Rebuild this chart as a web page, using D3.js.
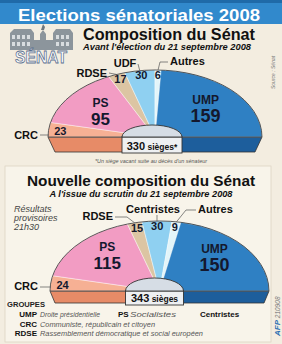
<!DOCTYPE html>
<html>
<head>
<meta charset="utf-8">
<script src="https://cdn.jsdelivr.net/npm/d3@7"></script>
<style>
  body { margin: 0; background: #f3ede0; }
  svg { display: block; font-family: "Liberation Sans", Arial, sans-serif; }
</style>
</head>
<body>
<div id="chart"></div>
<script>
// data
var groupsBefore = ["CRC", "PS", "RDSE", "UDF", "Autres", "UMP"];
var seatsBefore = [23, 95, 17, 30, 6, 159];
var groupsAfter = ["CRC", "PS", "RDSE", "Centristes", "Autres", "UMP"];
var seatsAfter = [24, 115, 15, 30, 9, 150];
var totalBefore = "330";
var totalAfter = "343";

var legendCodes = ["UMP", "CRC", "RDSE"];
var legendNames = ["Droite présidentielle", "Communiste, républicain et citoyen",
                   "Rassemblement démocratique et social européen"];

var colors = {
    CRC: "#f6b094", PS: "#f29cc3", RDSE: "#dcc5a3", UDF: "#8fd0f1",
    Centristes: "#8fd0f1", Autres: "#e3f5f9", UMP: "#2f80c3"
};
var sideColors = { CRC: "#e78b67", UMP: "#1d5e9c" };

var svgWidth = 282;
var svgHeight = 344;

var svg = d3.select("#chart")
    .append("svg")
    .attr("width", svgWidth)
    .attr("height", svgHeight);

svg.append("rect")
    .attr("width", svgWidth).attr("height", svgHeight)
    .attr("fill", "#f3ede0");

// header bar
svg.append("rect")
    .attr("width", svgWidth).attr("height", 24)
    .attr("fill", "#3189cc");
svg.append("rect")
    .attr("width", svgWidth).attr("height", 3)
    .attr("fill", "#1f6aa8");
svg.append("text")
    .attr("x", 139).attr("y", 21)
    .attr("text-anchor", "middle")
    .attr("textLength", 242).attr("lengthAdjust", "spacingAndGlyphs")
    .style("font-size", "17px").style("font-weight", "bold")
    .attr("fill", "#fff")
    .text("Elections sénatoriales 2008");

// senate building logo
var logo = svg.append("g");
logo.append("path")
    .attr("d", "M10,50 L10,33 L14,29 L31,29 L34,33 L34,40 L40,40 L40,34 L43,30 L46,34 L46,40 L53,40 L53,33 L56,29 L70,29 L73,33 L73,50 Z")
    .attr("fill", "#8c959c");
[12, 17, 22, 27, 56, 61, 66].forEach(function(x) {
    logo.append("rect").attr("x", x).attr("y", 35).attr("width", 3).attr("height", 4).attr("fill", "#d9dde0");
    logo.append("rect").attr("x", x).attr("y", 42).attr("width", 3).attr("height", 4).attr("fill", "#d9dde0");
});
logo.append("path")
    .attr("d", "M41,30 L43,24 L45,27 L44,30 Z")
    .attr("fill", "#6e777e");
logo.append("text")
    .attr("x", 41).attr("y", 63)
    .attr("text-anchor", "middle")
    .attr("textLength", 52).attr("lengthAdjust", "spacingAndGlyphs")
    .style("font-size", "17px").style("font-weight", "bold")
    .attr("fill", "#fff").attr("stroke", "#5d7190").attr("stroke-width", 0.8)
    .text("SÉNAT");

svg.append("text")
    .attr("x", 83).attr("y", 40)
    .attr("textLength", 172).attr("lengthAdjust", "spacingAndGlyphs")
    .style("font-size", "16px").style("font-weight", "bold")
    .attr("fill", "#111")
    .text("Composition du Sénat");
svg.append("text")
    .attr("x", 83).attr("y", 50)
    .attr("textLength", 168).attr("lengthAdjust", "spacingAndGlyphs")
    .style("font-size", "9px").style("font-weight", "bold").style("font-style", "italic")
    .attr("fill", "#111")
    .text("Avant l'élection du 21 septembre 2008");

svg.append("text")
    .attr("transform", "translate(275,89) rotate(-90)")
    .style("font-size", "5px").style("font-style", "italic")
    .attr("fill", "#777")
    .text("Source : Sénat");

svg.append("text")
    .attr("x", 151).attr("y", 163)
    .attr("text-anchor", "middle")
    .attr("textLength", 112).attr("lengthAdjust", "spacingAndGlyphs")
    .style("font-size", "5px").style("font-style", "italic")
    .attr("fill", "#555")
    .text("*Un siège vacant suite au décès d'un sénateur");

// second panel
svg.append("rect")
    .attr("x", 5).attr("y", 166).attr("width", 266).attr("height", 176)
    .attr("fill", "#f8f4ea").attr("stroke", "#ddd5c4").attr("stroke-width", 0.8);

svg.append("text")
    .attr("x", 141).attr("y", 186)
    .attr("text-anchor", "middle")
    .attr("textLength", 228).attr("lengthAdjust", "spacingAndGlyphs")
    .style("font-size", "15.5px").style("font-weight", "bold")
    .attr("fill", "#111")
    .text("Nouvelle composition du Sénat");
svg.append("text")
    .attr("x", 141).attr("y", 197)
    .attr("text-anchor", "middle")
    .attr("textLength", 183).attr("lengthAdjust", "spacingAndGlyphs")
    .style("font-size", "9px").style("font-weight", "bold").style("font-style", "italic")
    .attr("fill", "#111")
    .text("A l'issue du scrutin du 21 septembre 2008");

["Résultats", "provisoires", "21h30"].forEach(function(t, i) {
    svg.append("text")
        .attr("x", 14).attr("y", 212 + i * 9)
        .style("font-size", "9px").style("font-style", "italic")
        .attr("fill", "#444")
        .text(t);
});

function drawHemicycle(groups, seats, total, star, o) {
    var g = svg.append("g");
    var pie = d3.pie().sort(null)
        .startAngle(-Math.PI / 2).endAngle(Math.PI / 2);
    var slices = pie(seats);
    var arc = d3.arc().innerRadius(0).outerRadius(o.rx);

    function pt(a, r) {
        return [o.cx + o.rx * r * Math.sin(a), o.cy - o.ry * r * Math.cos(a)];
    }

    // 3d slab under the flat side
    var x0 = o.cx - o.rx, x1 = o.cx + o.rx, yb = o.cy + o.depth;
    g.append("path")
        .attr("d", d3.line()([[x0, o.cy], [o.cx, o.cy], [o.cx, yb], [x0 + o.inset, yb]]) + "Z")
        .attr("fill", sideColors.CRC);
    g.append("path")
        .attr("d", d3.line()([[o.cx, o.cy], [x1, o.cy], [x1 - o.inset, yb], [o.cx, yb]]) + "Z")
        .attr("fill", sideColors.UMP);
    g.append("path")
        .attr("d", d3.line()([[x0, o.cy], [x1, o.cy], [x1 - o.inset, yb], [x0 + o.inset, yb]]) + "Z")
        .attr("fill", "none").attr("stroke", "#333").attr("stroke-width", 0.8);

    var pieG = g.append("g")
        .attr("transform", `translate(${o.cx},${o.cy}) scale(1,${o.ry / o.rx})`);
    pieG.selectAll("path.slice")
        .data(slices)
        .enter()
        .append("path")
        .attr("class", "slice")
        .attr("d", arc)
        .attr("fill", (d, i) => colors[groups[i]])
        .attr("stroke", "rgba(255,255,255,0.7)")
        .attr("stroke-width", 0.6)
        .attr("vector-effect", "non-scaling-stroke");
    pieG.append("path")
        .attr("d", d3.arc().innerRadius(0).outerRadius(o.rx)
            .startAngle(-Math.PI / 2).endAngle(Math.PI / 2)())
        .attr("fill", "none").attr("stroke", "#333").attr("stroke-width", 0.8)
        .attr("vector-effect", "non-scaling-stroke");

    // central dome and total box
    var dx = o.cx + o.domeDx;
    g.append("rect")
        .attr("x", dx - o.domeRx).attr("y", o.cy)
        .attr("width", o.domeRx * 2).attr("height", o.boxH)
        .attr("fill", "#eef0f2").attr("stroke", "#333").attr("stroke-width", 0.9);
    g.append("path")
        .attr("d", `M${dx - o.domeRx},${o.cy} A${o.domeRx},${o.domeRy} 0 0 1 ${dx + o.domeRx},${o.cy} Z`)
        .attr("fill", "#d6dde5").attr("stroke", "#333").attr("stroke-width", 0.9);
    var tt = g.append("text")
        .attr("x", dx).attr("y", o.cy + o.boxH - 3)
        .attr("text-anchor", "middle")
        .attr("fill", "#111").style("font-weight", "bold");
    tt.append("tspan").style("font-size", "11px").text(total);
    tt.append("tspan").style("font-size", "8.5px").text(" sièges" + star);

    // numbers inside the slices
    slices.forEach(function(d, i) {
        var name = groups[i];
        var mid = (d.startAngle + d.endAngle) / 2;
        if (name === "PS" || name === "UMP") {
            var p = pt(mid, 0.65);
            g.append("text")
                .attr("x", p[0]).attr("y", p[1] - 3 + o.labelDy)
                .attr("text-anchor", "middle")
                .style("font-size", "12px").style("font-weight", "bold")
                .attr("fill", "#14182e")
                .text(name);
            g.append("text")
                .attr("x", p[0]).attr("y", p[1] + 15 + o.labelDy)
                .attr("text-anchor", "middle")
                .style("font-size", name === "UMP" ? "18px" : "17px").style("font-weight", "bold")
                .attr("fill", "#14182e")
                .text(d.data);
        } else {
            var q = pt(mid, 0.9);
            var y = name === "CRC" ? o.cy - 2 : q[1] + 2;
            var x = name === "CRC" ? q[0] + 1 : q[0];
            g.append("text")
                .attr("x", x).attr("y", y)
                .attr("text-anchor", "middle")
                .style("font-size", "11px").style("font-weight", "bold")
                .attr("fill", "#14182e")
                .text(d.data);
        }
    });

    // outside names with leader lines
    o.outside.forEach(function(l) {
        var i = groups.indexOf(l.name);
        var d = slices[i];
        var mid = (d.startAngle + d.endAngle) / 2;
        var edge = l.name === "CRC" ? [o.cx - o.rx + 1, l.ly] : pt(mid, 1);
        var pts = l.line.concat([edge]);
        g.append("path")
            .attr("d", d3.line()(pts))
            .attr("fill", "none").attr("stroke", "#555").attr("stroke-width", 0.7);
        g.append("text")
            .attr("x", l.x).attr("y", l.y)
            .attr("text-anchor", l.anchor)
            .style("font-size", "11px").style("font-weight", "bold")
            .attr("fill", "#111")
            .text(l.name);
    });
}

drawHemicycle(groupsBefore, seatsBefore, totalBefore, "*", {
    cx: 155, cy: 137, rx: 107, ry: 67, depth: 15, inset: 7,
    domeDx: -3, domeRx: 30, domeRy: 12, boxH: 16, labelDy: 0,
    outside: [
        { name: "CRC", x: 38, y: 139, anchor: "end", ly: 135, line: [[40, 135]] },
        { name: "RDSE", x: 107, y: 77, anchor: "end", line: [[109, 73]] },
        { name: "UDF", x: 125, y: 67, anchor: "middle", line: [[138, 64]] },
        { name: "Autres", x: 170, y: 65, anchor: "start", line: [[168, 62], [160, 62]] }
    ]
});

drawHemicycle(groupsAfter, seatsAfter, totalAfter, "", {
    cx: 159.5, cy: 291, rx: 109.5, ry: 70, depth: 12, inset: 5,
    domeDx: -5, domeRx: 29, domeRy: 13, boxH: 14, labelDy: -6,
    outside: [
        { name: "CRC", x: 38, y: 290, anchor: "end", ly: 287, line: [[40, 287]] },
        { name: "RDSE", x: 113, y: 220, anchor: "end", line: [[115, 217], [127, 217]] },
        { name: "Centristes", x: 153, y: 213, anchor: "middle", line: [[157, 215]] },
        { name: "Autres", x: 198, y: 213, anchor: "start", line: [[196, 210], [186, 210]] }
    ]
});

// legend
svg.append("text")
    .attr("x", 7).attr("y", 307)
    .attr("textLength", 38).attr("lengthAdjust", "spacingAndGlyphs")
    .style("font-size", "7.5px").style("font-weight", "bold")
    .attr("fill", "#222")
    .text("GROUPES");

var descWidths = [60, 115, 163];
legendCodes.forEach(function(c, i) {
    var y = 317 + i * 9.5;
    svg.append("text")
        .attr("x", 37).attr("y", y)
        .attr("text-anchor", "end")
        .style("font-size", "8px").style("font-weight", "bold")
        .attr("fill", "#111")
        .text(c);
    svg.append("text")
        .attr("x", 40).attr("y", y)
        .attr("textLength", descWidths[i]).attr("lengthAdjust", "spacingAndGlyphs")
        .style("font-size", "7px").style("font-style", "italic")
        .attr("fill", "#555")
        .text(legendNames[i]);
});
svg.append("text")
    .attr("x", 118).attr("y", 317)
    .style("font-size", "8px").style("font-weight", "bold")
    .attr("fill", "#111")
    .text("PS");
svg.append("text")
    .attr("x", 130).attr("y", 317)
    .attr("textLength", 46).attr("lengthAdjust", "spacingAndGlyphs")
    .style("font-size", "7px").style("font-style", "italic")
    .attr("fill", "#555")
    .text("Socialistes");
svg.append("text")
    .attr("x", 200).attr("y", 317)
    .style("font-size", "8px").style("font-weight", "bold")
    .attr("fill", "#111")
    .text("Centristes");

var afp = svg.append("text")
    .attr("transform", "translate(280,336) rotate(-90)");
afp.append("tspan")
    .style("font-size", "8px").style("font-weight", "bold").style("font-style", "italic")
    .attr("fill", "#2a6fb3")
    .text("AFP");
afp.append("tspan")
    .style("font-size", "6.5px").style("font-style", "italic")
    .attr("fill", "#777")
    .text(" 210908");
</script>
</body>
</html>
